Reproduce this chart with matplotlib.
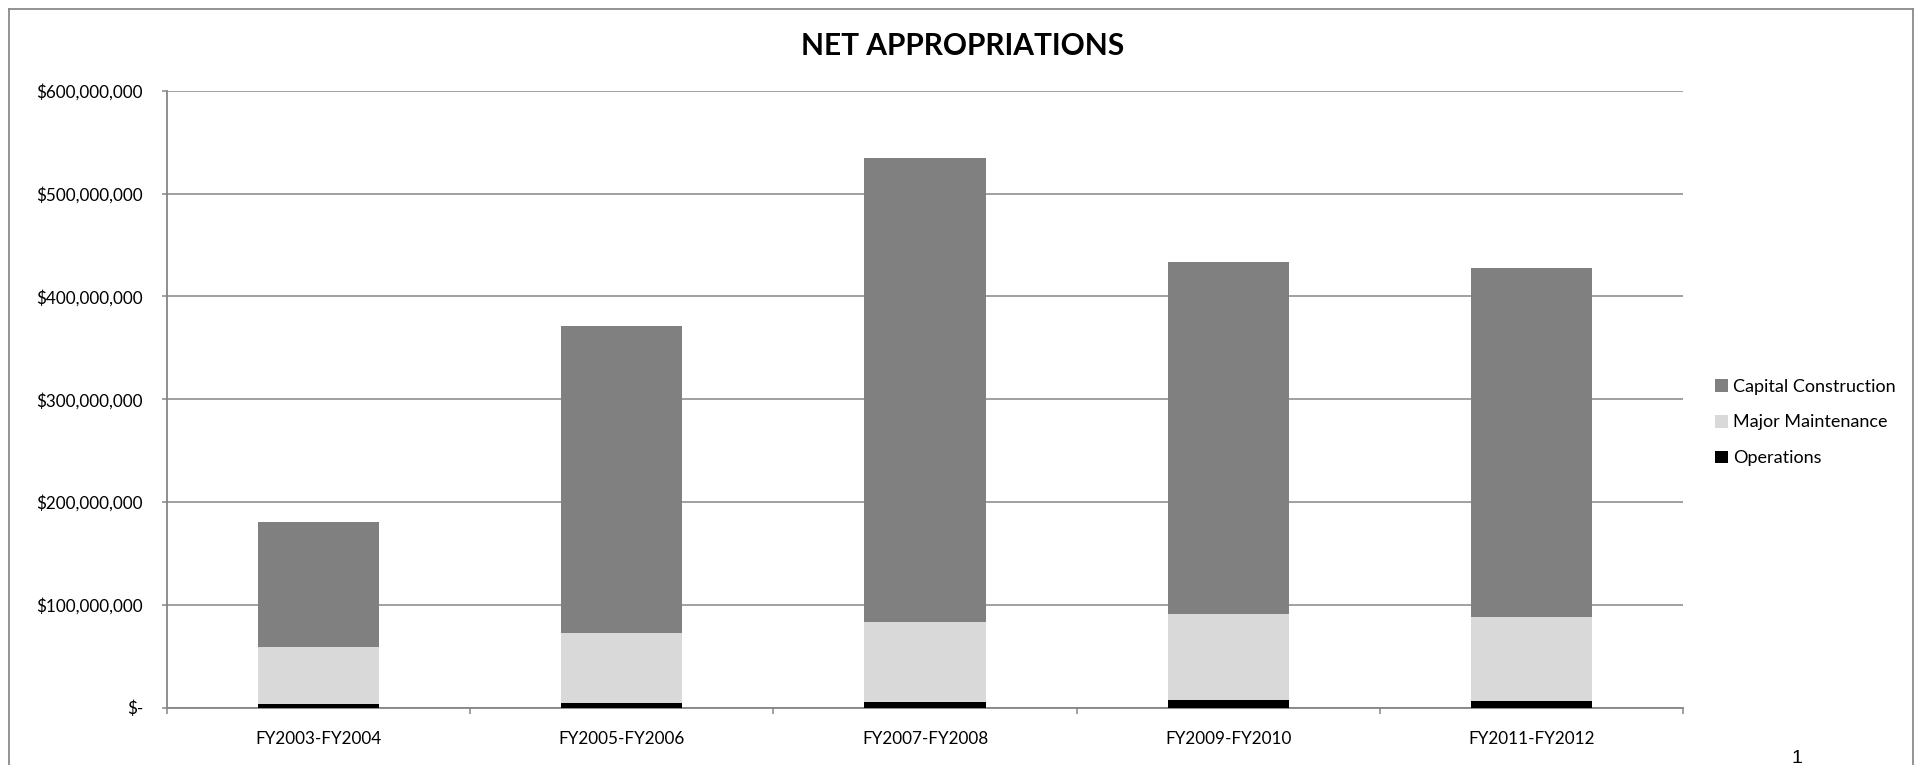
import matplotlib
matplotlib.use("Agg")
import matplotlib.pyplot as plt
from matplotlib.lines import Line2D
from matplotlib.ticker import FuncFormatter
import numpy as np

plt.rcParams['font.family'] = ['Lato', 'DejaVu Sans']

# --- data (dollars) ---
periods = ["FY2003-FY2004", "FY2005-FY2006", "FY2007-FY2008", "FY2009-FY2010", "FY2011-FY2012"]
operations = [3.4e6, 4.4e6, 5.7e6, 7.3e6, 6.0e6]
major_maintenance = [55.0e6, 67.8e6, 77.2e6, 83.7e6, 81.8e6]
capital_construction = [122.0e6, 298.8e6, 451.6e6, 342.3e6, 339.6e6]
yticks = [0, 100e6, 200e6, 300e6, 400e6, 500e6, 600e6]

col_cap = "#808080"
col_maint = "#D9D9D9"
col_ops = "#000000"
axis_gray = "#868686"

W, H = 1925, 765
fig = plt.figure(figsize=(W / 100, H / 100), dpi=100)
ax = fig.add_axes([167 / W, 1 - 707.5 / H, (1683 - 167) / W, (707.5 - 91) / H])

x = np.arange(len(periods))
ops = np.array(operations)
maint = np.array(major_maintenance)
cap = np.array(capital_construction)

b_ops = ax.bar(x, ops, width=0.4, color=col_ops, zorder=3, label="Operations")
b_maint = ax.bar(x, maint, width=0.4, bottom=ops, color=col_maint, zorder=3, label="Major Maintenance")
b_cap = ax.bar(x, cap, width=0.4, bottom=ops + maint, color=col_cap, zorder=3, label="Capital Construction")

ax.set_xlim(-0.5, len(periods) - 0.5)
ax.set_ylim(0, 600e6)
ax.set_yticks(yticks)
ax.yaxis.set_major_formatter(FuncFormatter(lambda v, p: "$-" if v == 0 else "${:,.0f}".format(v)))
ax.grid(axis='y', color=axis_gray, linewidth=1.1, zorder=0)

ax.set_xticks(x)
ax.set_xticklabels(periods)
ax.set_xticks(np.arange(len(periods) + 1) - 0.5, minor=True)
ax.tick_params(axis='x', which='major', length=0, pad=17, labelsize=12.3, colors='black')
ax.tick_params(axis='x', which='minor', length=4.3, width=1.1, color=axis_gray)
ax.tick_params(axis='y', length=3.6, width=1.1, color=axis_gray, pad=13.7, labelsize=12.3, labelcolor='black')

for s in ['top', 'right']:
    ax.spines[s].set_visible(False)
for s in ['left', 'bottom']:
    ax.spines[s].set_color(axis_gray)
    ax.spines[s].set_linewidth(1.3)

fig.text(0.5, 1 - 46 / H, "NET APPROPRIATIONS", ha='center', va='center',
         fontsize=21.5, fontweight='bold')

# legend, order as in the reference
handles = [b_cap, b_maint, b_ops]
leg = fig.legend(handles, [h.get_label() for h in handles], loc='center left',
                 bbox_to_anchor=(1699 / W, 1 - 422.5 / H), frameon=False,
                 fontsize=13, handlelength=0.7, handleheight=0.7,
                 handletextpad=0.3, labelspacing=1.1)

# outer chart border (bottom edge falls off the page)
bx0, bx1, by0 = 9 / W, 1913 / W, 1 - 9 / H
for xs, ys in [([bx0, bx0], [by0, -0.1]), ([bx0, bx1], [by0, by0]), ([bx1, bx1], [by0, -0.1])]:
    fig.add_artist(Line2D(xs, ys, color="#8a8a8a", linewidth=1.3, transform=fig.transFigure))

# page number at the foot of the page
fig.text(1797 / W, 2 / H, "1", ha='center', va='baseline', fontsize=14,
         family=['Liberation Sans', 'DejaVu Sans'])

fig.savefig("out.png", dpi=100, facecolor='white')
